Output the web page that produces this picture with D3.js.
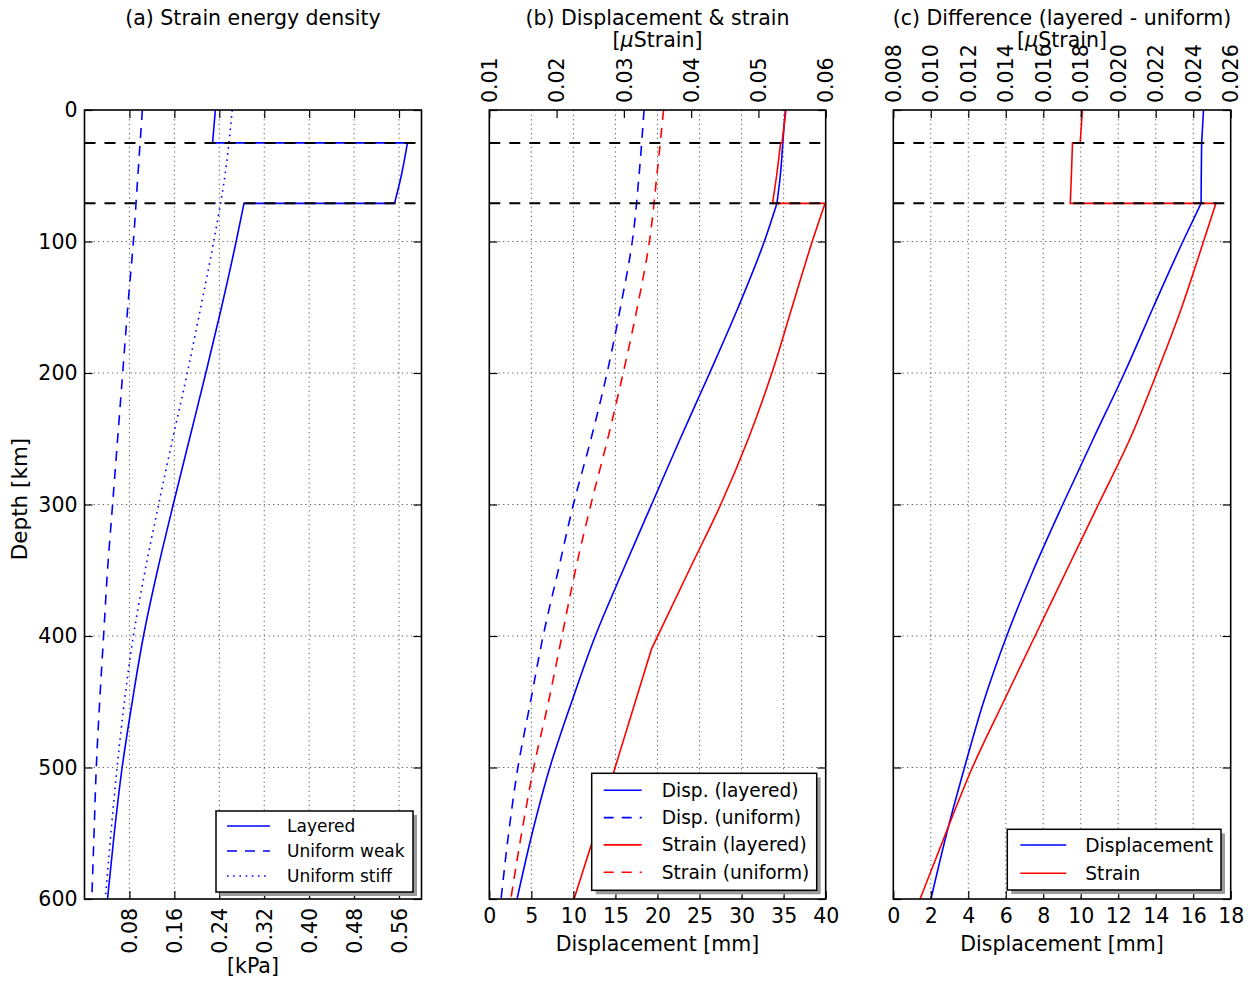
<!DOCTYPE html>
<html>
<head>
<meta charset="utf-8">
<script src="https://cdn.jsdelivr.net/npm/d3@7"></script>
<style>
  body { margin: 0; background: #fff; }
  svg { display: block; font-family: "DejaVu Sans", sans-serif; }
</style>
</head>
<body>
<script>
// depth grids [km]
const depthStep = [0, 25, 25, 50, 71, 71, 100, 150, 200, 250, 300, 350, 400, 450, 500, 550, 600];
const depthStep410 = [0, 25, 25, 50, 71, 71, 100, 150, 200, 250, 300, 350, 410, 410, 450, 500, 550, 600];
const depthSmooth = [0, 50, 100, 150, 200, 250, 300, 350, 400, 450, 500, 550, 600];
const layerBounds = [25, 71];
const depthTicks = [0, 100, 200, 300, 400, 500, 600];

// (a) strain energy density [kPa]
const sedLayered = [0.233, 0.228, 0.575, 0.564, 0.552, 0.284, 0.270, 0.244, 0.216, 0.187, 0.158, 0.130, 0.105, 0.085, 0.067, 0.053, 0.041];
const sedWeak = [0.103, 0.095, 0.087, 0.077, 0.068, 0.059, 0.050, 0.041, 0.034, 0.027, 0.021, 0.017, 0.013];
const sedStiff = [0.263, 0.250, 0.230, 0.207, 0.183, 0.157, 0.132, 0.108, 0.087, 0.071, 0.058, 0.047, 0.037];
const sedTicks = [0.08, 0.16, 0.24, 0.32, 0.40, 0.48, 0.56];

// (b) displacement [mm] and strain [microstrain]
const dispLayered = [35.2, 34.9, 34.9, 34.6, 34.2, 34.2, 32.7, 29.6, 26.2, 22.7, 19.3, 15.9, 12.6, 9.8, 7.2, 5.1, 3.3];
const dispUniform = [18.4, 17.8, 17.0, 15.6, 14.0, 12.1, 10.0, 8.2, 6.4, 4.9, 3.4, 2.3, 1.4];
const strainLayered = [0.0541, 0.0535, 0.0533, 0.0527, 0.0521, 0.0599, 0.0580, 0.0550, 0.0520, 0.0485, 0.0444, 0.0397, 0.0341, 0.0341, 0.0317, 0.0287, 0.0257, 0.0226];
const strainUniform = [0.0359, 0.0349, 0.0338, 0.0320, 0.0299, 0.0276, 0.0251, 0.0228, 0.0208, 0.0188, 0.0166, 0.0148, 0.0132];
const dispTicksB = [0, 5, 10, 15, 20, 25, 30, 35, 40];
const strainTicksB = [0.01, 0.02, 0.03, 0.04, 0.05, 0.06];

// (c) difference layered - uniform
const dispDiff = [16.55, 16.45, 16.45, 16.43, 16.42, 16.42, 15.45, 13.87, 12.33, 10.67, 9.04, 7.47, 6.05, 4.82, 3.8, 2.85, 2.01];
const strainDiff = [0.01809, 0.01797, 0.01756, 0.01750, 0.01744, 0.02521, 0.02455, 0.02339, 0.02206, 0.02063, 0.01894, 0.01725, 0.01556, 0.01388, 0.01222, 0.01080, 0.00943];
const dispTicksC = [0, 2, 4, 6, 8, 10, 12, 14, 16, 18];
const strainTicksC = [0.008, 0.010, 0.012, 0.014, 0.016, 0.018, 0.020, 0.022, 0.024, 0.026];

const W = 1252, H = 982;
const plotTop = 110, plotBottom = 899;
const fs = 20.5;

const svg = d3.select("body").append("svg")
  .attr("width", W).attr("height", H)
  .attr("viewBox", `0 0 ${W} ${H}`);
svg.append("rect").attr("width", W).attr("height", H).attr("fill", "#fff");

const y = d3.scaleLinear([0, 600], [plotTop, plotBottom]);

const styles = {
  solid: null,
  dashed: "10,8",
  dotted: "1.6,4.6"
};

// smooth each continuous run, keep the jumps at layer boundaries sharp
function profilePath(data, sx) {
  const runs = [];
  let cur = [data[0]];
  for (let i = 1; i < data.length; i++) {
    if (data[i][0] === data[i - 1][0]) { runs.push(cur); cur = [data[i]]; }
    else cur.push(data[i]);
  }
  runs.push(cur);
  const line = d3.line().x(d => sx(d[1])).y(d => y(d[0])).curve(d3.curveMonotoneY);
  return runs.map((r, i) => {
    const p = line(r).replace(/Z$/, "");
    return i ? "L" + p.slice(1) : p;
  }).join("");
}

function panel(cfg) {
  const x = d3.scaleLinear(cfg.xDomain, [cfg.left, cfg.right]);
  const xt = cfg.topDomain ? d3.scaleLinear(cfg.topDomain, [cfg.left, cfg.right]) : x;
  const g = svg.append("g");
  const cx = (cfg.left + cfg.right) / 2;

  const clipId = "clip" + cfg.id;
  svg.append("clipPath").attr("id", clipId)
    .append("rect").attr("x", cfg.left).attr("y", plotTop)
    .attr("width", cfg.right - cfg.left).attr("height", plotBottom - plotTop);

  // grid
  g.append("g").selectAll("line").data(cfg.gridX).join("line")
    .attr("x1", d => x(d)).attr("x2", d => x(d))
    .attr("y1", plotTop).attr("y2", plotBottom)
    .attr("stroke", "#444").attr("stroke-width", 0.9).attr("stroke-dasharray", "1.2,3.4");
  g.append("g").selectAll("line").data([100, 200, 300, 400, 500]).join("line")
    .attr("x1", cfg.left).attr("x2", cfg.right)
    .attr("y1", d => y(d)).attr("y2", d => y(d))
    .attr("stroke", "#444").attr("stroke-width", 0.9).attr("stroke-dasharray", "1.2,3.4");

  // series
  const plot = g.append("g").attr("clip-path", `url(#${clipId})`);
  cfg.series.forEach(s => {
    const sx = s.axis === "top" ? xt : x;
    plot.append("path")
      .attr("d", profilePath(d3.zip(s.depth, s.values), sx))
      .attr("fill", "none")
      .attr("stroke", s.color)
      .attr("stroke-width", 1.6)
      .attr("stroke-linejoin", "miter")
      .attr("stroke-dasharray", styles[s.style]);
  });

  // layer boundaries
  plot.append("g").selectAll("line").data(layerBounds).join("line")
    .attr("x1", cfg.left).attr("x2", cfg.right)
    .attr("y1", d => y(d)).attr("y2", d => y(d))
    .attr("stroke", "#000").attr("stroke-width", 2)
    .attr("stroke-dasharray", "11,9");

  // axes (ticks inward)
  const axB = g.append("g").attr("transform", `translate(0,${plotBottom})`)
    .call(d3.axisBottom(x).tickValues(cfg.xTicks).tickFormat(d3.format(cfg.xFormat))
      .tickSizeInner(-8).tickSizeOuter(0).tickPadding(9));
  const axT = g.append("g").attr("transform", `translate(0,${plotTop})`)
    .call(d3.axisTop(xt).tickValues(cfg.topTicks).tickFormat(cfg.topFormat ? d3.format(cfg.topFormat) : "")
      .tickSizeInner(-8).tickSizeOuter(0).tickPadding(7));
  const axL = g.append("g").attr("transform", `translate(${cfg.left},0)`)
    .call(d3.axisLeft(y).tickValues(depthTicks).tickFormat(cfg.yLabels ? d3.format("d") : "")
      .tickSizeInner(-8).tickSizeOuter(0).tickPadding(7));
  const axR = g.append("g").attr("transform", `translate(${cfg.right},0)`)
    .call(d3.axisRight(y).tickValues(depthTicks).tickFormat("")
      .tickSizeInner(-8).tickSizeOuter(0));
  [axB, axT, axL, axR].forEach(a => {
    a.select(".domain").remove();
    a.selectAll("line").attr("stroke", "#000").attr("stroke-width", 1.2);
    a.selectAll("text").attr("font-size", fs).attr("fill", "#000")
      .attr("font-family", '"DejaVu Sans", sans-serif');
  });
  if (cfg.rotateBottom) {
    axB.selectAll("text")
      .attr("transform", "rotate(-90)")
      .attr("x", -9).attr("y", 0).attr("dy", "0.35em")
      .attr("text-anchor", "end");
  }
  axT.selectAll("text")
    .attr("transform", "rotate(-90)")
    .attr("x", 7).attr("y", 0).attr("dy", "0.35em")
    .attr("text-anchor", "start");

  // frame
  g.append("rect")
    .attr("x", cfg.left).attr("y", plotTop)
    .attr("width", cfg.right - cfg.left).attr("height", plotBottom - plotTop)
    .attr("fill", "none").attr("stroke", "#000").attr("stroke-width", 1.6);

  // titles
  g.append("text").attr("x", cx).attr("y", 25).attr("text-anchor", "middle")
    .attr("font-size", fs).text(cfg.title);
  if (cfg.topLabel) {
    const t = g.append("text").attr("x", cx).attr("y", 47).attr("text-anchor", "middle")
      .attr("font-size", fs);
    t.append("tspan").text("[");
    t.append("tspan").attr("font-style", "italic").text("\u03bc");
    t.append("tspan").text("Strain]");
  }
  g.append("text").attr("x", cx).attr("y", cfg.xLabelY).attr("text-anchor", "middle")
    .attr("font-size", fs).text(cfg.xLabel);

  // legend
  const L = cfg.legend;
  const lg = g.append("g");
  lg.append("rect").attr("x", L.x + 4).attr("y", L.y + 4)
    .attr("width", L.w).attr("height", L.h).attr("fill", "#9a9a9a");
  lg.append("rect").attr("x", L.x).attr("y", L.y)
    .attr("width", L.w).attr("height", L.h)
    .attr("fill", "#fff").attr("stroke", "#000").attr("stroke-width", 1.5);
  cfg.series.forEach((s, i) => {
    const ry = L.y + L.first + i * L.step;
    lg.append("line").attr("x1", L.x + L.lx0).attr("x2", L.x + L.lx1)
      .attr("y1", ry).attr("y2", ry)
      .attr("stroke", s.color).attr("stroke-width", 1.6)
      .attr("stroke-dasharray", styles[s.style]);
    lg.append("text").attr("x", L.x + L.tx).attr("y", ry).attr("dy", "0.35em")
      .attr("font-size", L.fs).text(s.name);
  });
  return g;
}

panel({
  id: "a", left: 84.5, right: 421.5,
  xDomain: [0, 0.6], xTicks: sedTicks, xFormat: ".2f", rotateBottom: true,
  gridX: sedTicks, topTicks: sedTicks, yLabels: true,
  title: "(a) Strain energy density", xLabel: "[kPa]", xLabelY: 973,
  series: [
    { name: "Layered", depth: depthStep, values: sedLayered, color: "#0000ff", style: "solid" },
    { name: "Uniform weak", depth: depthSmooth, values: sedWeak, color: "#0000ff", style: "dashed" },
    { name: "Uniform stiff", depth: depthSmooth, values: sedStiff, color: "#0000ff", style: "dotted" }
  ],
  legend: { x: 216, y: 811, w: 197, h: 81, first: 15, step: 25, lx0: 11, lx1: 54, tx: 71, fs: 17 }
});

panel({
  id: "b", left: 489.3, right: 825.7,
  xDomain: [0, 40], xTicks: dispTicksB, xFormat: "d",
  topDomain: [0.01, 0.06], topTicks: strainTicksB, topFormat: ".2f", topLabel: true,
  gridX: dispTicksB.slice(1, -1), yLabels: false,
  title: "(b) Displacement & strain", xLabel: "Displacement [mm]", xLabelY: 951,
  series: [
    { name: "Disp. (layered)", depth: depthStep, values: dispLayered, color: "#0000ff", style: "solid" },
    { name: "Disp. (uniform)", depth: depthSmooth, values: dispUniform, color: "#0000ff", style: "dashed", axis: "bottom" },
    { name: "Strain (layered)", depth: depthStep410, values: strainLayered, color: "#ff0000", style: "solid", axis: "top" },
    { name: "Strain (uniform)", depth: depthSmooth, values: strainUniform, color: "#ff0000", style: "dashed", axis: "top" }
  ],
  legend: { x: 591.7, y: 773.3, w: 225, h: 117, first: 17, step: 27.3, lx0: 12, lx1: 50, tx: 70, fs: 18.6 }
});

panel({
  id: "c", left: 893.3, right: 1230.7,
  xDomain: [0, 18], xTicks: dispTicksC, xFormat: "d",
  topDomain: [0.008, 0.026], topTicks: strainTicksC, topFormat: ".3f", topLabel: true,
  gridX: dispTicksC.slice(1, -1), yLabels: false,
  title: "(c) Difference (layered - uniform)", xLabel: "Displacement [mm]", xLabelY: 951,
  series: [
    { name: "Displacement", depth: depthStep, values: dispDiff, color: "#0000ff", style: "solid" },
    { name: "Strain", depth: depthStep, values: strainDiff, color: "#ff0000", style: "solid", axis: "top" }
  ],
  legend: { x: 1007.3, y: 829.3, w: 213.7, h: 60.7, first: 15.7, step: 28.3, lx0: 13, lx1: 59, tx: 78, fs: 18.6 }
});

// y axis label
svg.append("text")
  .attr("transform", "translate(27,499) rotate(-90)")
  .attr("text-anchor", "middle")
  .attr("font-size", 21.5)
  .text("Depth [km]");
</script>
</body>
</html>
